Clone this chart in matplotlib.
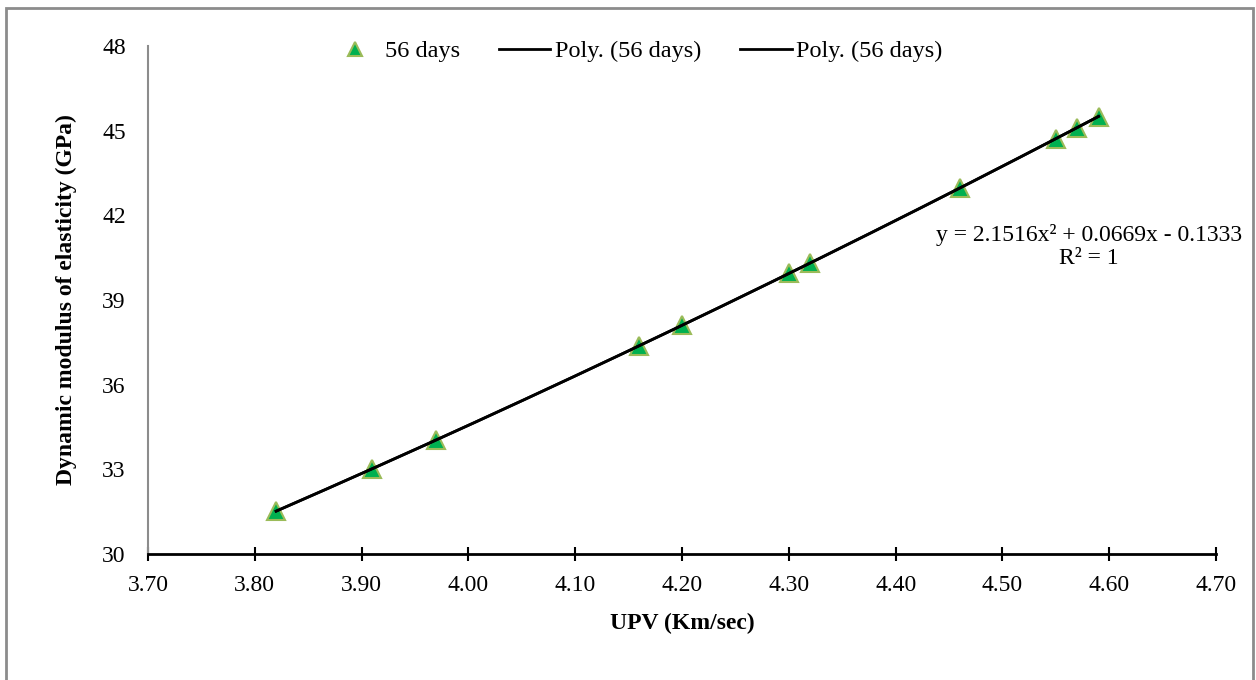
import numpy as np
import matplotlib
matplotlib.use('Agg')
import matplotlib.pyplot as plt
from matplotlib.patches import Rectangle

# Дані
upv = [3.82, 3.91, 3.97, 4.16, 4.20, 4.30, 4.32, 4.46, 4.55, 4.57, 4.59]
modulus = [31.52, 33.02, 34.04, 37.38, 38.10, 39.94, 40.31, 42.96, 44.72, 45.11, 45.50]
x_ticks = [3.70, 3.80, 3.90, 4.00, 4.10, 4.20, 4.30, 4.40, 4.50, 4.60, 4.70]
y_ticks = [30, 33, 36, 39, 42, 45, 48]

plt.rcParams['font.family'] = ['Liberation Serif', 'DejaVu Serif']

fig = plt.figure(figsize=(12.56, 6.8), dpi=100)
ax = fig.add_axes([0.1178, 0.1853, 0.8504, 0.7471])

# Рамка навколо діаграми
fig.patches.append(Rectangle((6 / 1256, -0.05), 1247 / 1256, 1.05 - 8 / 680,
                             transform=fig.transFigure, fill=False,
                             edgecolor='#8c8c8c', linewidth=2, clip_on=False))

# Поліноміальна лінія тренду (2-го степеня)
coef = np.polyfit(upv, modulus, 2)
xs = np.linspace(min(upv), max(upv), 200)
ys = np.polyval(coef, xs)

ax.plot(upv, modulus, linestyle='none', marker='^', markersize=13,
        markerfacecolor='#00B050', markeredgecolor='#9BBB59', markeredgewidth=1.5,
        label='56 days', zorder=3)
ax.plot(xs, ys, color='black', linewidth=2, label='Poly. (56 days)', zorder=4)
ax.plot(xs, ys, color='black', linewidth=2, label='Poly. (56 days)', zorder=4)

ax.set_xlim(3.70, 4.70)
ax.set_ylim(30, 48)
ax.set_xticks(x_ticks)
ax.set_xticklabels([f'{v:.2f}' for v in x_ticks])
ax.set_yticks(y_ticks)

ax.spines['top'].set_visible(False)
ax.spines['right'].set_visible(False)
ax.spines['left'].set_color('#8c8c8c')
ax.spines['left'].set_linewidth(1.5)
ax.spines['bottom'].set_color('black')
ax.spines['bottom'].set_linewidth(2)

ax.tick_params(axis='x', direction='inout', length=10, width=1.5, pad=10, labelsize=17)
ax.tick_params(axis='y', length=0, pad=16, labelsize=17)

ax.set_xlabel('UPV (Km/sec)', fontsize=17, fontweight='bold', labelpad=12)
ax.set_ylabel('Dynamic modulus of elasticity (GPa)', fontsize=17, fontweight='bold', labelpad=18)

ax.text(0.881, 0.605, 'y = 2.1516x² + 0.0669x - 0.1333\nR² = 1',
        transform=ax.transAxes, ha='center', va='center', fontsize=17,
        linespacing=1.1)

ax.legend(loc='center', bbox_to_anchor=(0.457, 0.99), ncol=3, frameon=False,
          fontsize=17.5, handlelength=2.1, columnspacing=1.6, markerscale=0.75,
          handletextpad=0.2, borderpad=0, borderaxespad=0)

fig.savefig('out.png', dpi=100)
